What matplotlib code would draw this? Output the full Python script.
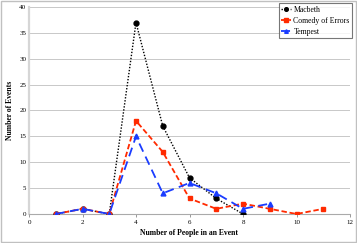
import matplotlib
matplotlib.use("Agg")
import matplotlib.pyplot as plt
from matplotlib.patches import Rectangle

mac_x = [1, 2, 3, 4, 5, 6, 7, 8]
mac_y = [0, 1, 0, 37, 17, 7, 3, 0]
com_x = [1, 2, 3, 4, 5, 6, 7, 8, 9, 10, 11]
com_y = [0, 1, 0, 18, 12, 3, 1, 2, 1, 0, 1]
tem_x = [1, 2, 3, 4, 5, 6, 7, 8, 9]
tem_y = [0, 1, 0, 15, 4, 6, 4, 1, 2]
xticks = [0, 2, 4, 6, 8, 10, 12]
yticks = [0, 5, 10, 15, 20, 25, 30, 35, 40]

plt.rcParams['font.family'] = ['Liberation Serif', 'DejaVu Serif']

fig = plt.figure(figsize=(3.57, 2.43), dpi=100)
ax = fig.add_axes([29/357, 29/243, 321/357, 207/243])

ax.plot(mac_x, mac_y, color='black', linestyle=(0, (1, 1.2)), linewidth=1.0,
        marker='o', markersize=3.5, label='Macbeth', zorder=3)
ax.plot(com_x, com_y, color='#ff2a00', linestyle=(0, (3, 1.5)), linewidth=1.3,
        marker='s', markersize=3.5, label='Comedy of Errors', zorder=4)
ax.plot(tem_x, tem_y, color='#1a3cff', linestyle=(0, (5, 3)), linewidth=1.3,
        marker='^', markersize=3.5, label='Tempest', zorder=5)

ax.set_xlim(0, 12)
ax.set_ylim(0, 40)
ax.set_xticks(xticks)
ax.set_yticks(yticks)
ax.tick_params(labelsize=5, length=2, width=0.6, color='#888888', pad=2)
ax.yaxis.grid(True, color='#c8c8c8', linewidth=0.7)
ax.set_axisbelow(True)
for s in ['top', 'right']:
    ax.spines[s].set_visible(False)
ax.spines['left'].set_color('#d6d6d6')
ax.spines['left'].set_linewidth(1.6)
ax.spines['bottom'].set_color('#aaaaaa')
ax.spines['bottom'].set_linewidth(0.8)
ax.tick_params(axis='y', length=0)

ax.set_xlabel('Number of People in an Event', fontsize=5.5, fontweight='bold', labelpad=3)
ax.set_ylabel('Number of Events', fontsize=5.5, fontweight='bold', labelpad=4)

leg = ax.legend(loc='upper right', bbox_to_anchor=(1.011, 1.025), fontsize=5.6,
                frameon=True, fancybox=False, edgecolor='#555555',
                handlelength=1.3, handletextpad=0.25, borderpad=0.3,
                labelspacing=0.4, borderaxespad=0.2, markerscale=0.75)
leg.get_frame().set_linewidth(0.8)

fig.patches.append(Rectangle((0.002, 0.003), 0.995, 0.993, transform=fig.transFigure,
                             fill=False, edgecolor='#c0c0c0', linewidth=1.0))

fig.savefig('out.png', dpi=100)
